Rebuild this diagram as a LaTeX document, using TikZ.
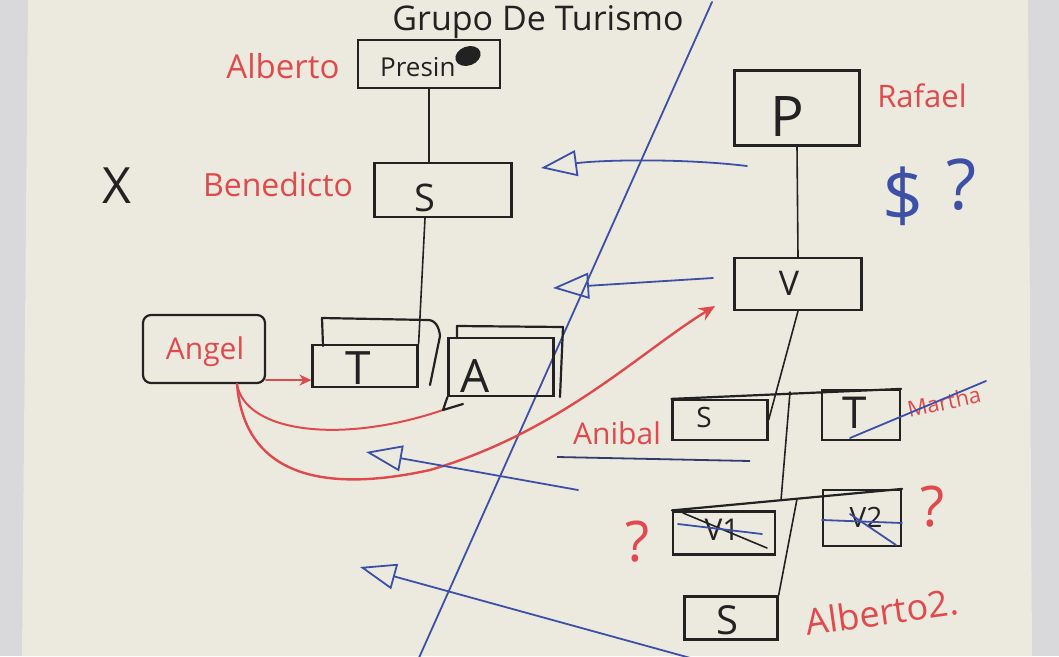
\documentclass[tikz,border=0pt]{standalone}
\usepackage{fontspec}
\setmainfont{Open Sans}
\usetikzlibrary{arrows.meta,calc,shapes.geometric}
\definecolor{paper}{HTML}{ECE9DF}
\definecolor{wall}{HTML}{D9D8DB}
\definecolor{mred}{HTML}{E04A4C}
\definecolor{mblue}{HTML}{3D50A8}
\definecolor{mblack}{HTML}{232222}
\newcommand{\hfs}[1]{\fontsize{#1}{#1}\selectfont}
\begin{document}
\begin{tikzpicture}[x=1pt,y=-1pt,
  ink/.style={draw=mblack,line width=2.2pt,line cap=round,line join=round},
  thin ink/.style={draw=mblack,line width=1.6pt,line cap=round},
  box/.style={draw=mblack,line width=2.2pt,inner sep=0pt},
  boxtxt/.style={text=mblack,inner sep=0pt},
  rname/.style={text=mred,inner sep=0pt},
  bname/.style={text=mblue,inner sep=0pt},
  rline/.style={draw=mred,line width=2.4pt,line cap=round},
  bline/.style={draw=mblue,line width=1.8pt,line cap=round},
  barrow/.style={bline,-{Triangle[open,length=36pt,width=26pt,line width=1.8pt]}},
  rarrow/.style={rline,-{Stealth[length=16pt,width=14pt]}}]
\useasboundingbox (0,0) rectangle (1059,656);
\clip (0,0) rectangle (1059,656);
\fill[wall] (0,0) rectangle (1059,656);
\fill[paper] (28,0) -- (1028,0) -- (1032,656) -- (22,656) -- cycle;

% title and divider
\node[boxtxt,anchor=base,font=\hfs{34}] (title) at (538,30) {Grupo De Turismo};
\coordinate (d1) at (712,2);
\coordinate (d2) at (418,660);
\draw[bline] (d1) -- (d2);

% ---------- left organisation ----------
\node[box,minimum width=142,minimum height=48] (pres) at (429,64) {};
\node[boxtxt,anchor=west,font=\hfs{26}] (prestxt) at (380,67) {Presin};
\node[fill=mblack,ellipse,minimum width=26,minimum height=19,inner sep=0pt,rotate=20] (blob) at (468,56) {};
\node[rname,font=\hfs{33}] (alberto) at (283,66) {Alberto};

\node[box,minimum width=137,minimum height=54] (sbox) at (443,190) {};
\node[boxtxt,font=\hfs{38}] (stxt) at (425,198) {S};
\node[rname,font=\hfs{32}] (benedicto) at (278,184) {Benedicto};
\node[boxtxt,font=\hfs{50}] (xmark) at (117,186) {X};

\node[box,minimum width=105,minimum height=42] (tbox) at (365,366) {};
\node[boxtxt,font=\hfs{46}] (ttxt) at (358,368) {T};
\draw[ink] (323,346) -- (322,318) -- (428,320) to[out=0,in=95] (440,336) -- (430,385);

\node[box,rounded corners=8,minimum width=122,minimum height=68] (angel) at (204,349) {};
\node[rname,font=\hfs{30}] (angeltxt) at (205,352) {Angel};

\node[box,minimum width=105,minimum height=58] (abox) at (501,367) {};
\node[boxtxt,font=\hfs{46}] (atxt) at (475,376) {A};
\draw[ink] (457,338) -- (457,326) -- (563,327) -- (560,397);

\draw[thin ink] (pres.south) -- (sbox.north -| pres.south);
\draw[thin ink] (sbox.south -| stxt) -- (tbox.north east);

% red arrows
\coordinate (ared) at ($(angel.south)+(33,0)$);
\coordinate (atip) at (443,410);
\coordinate (r2e) at (715,306);
\draw[rarrow,-{Stealth[length=12pt,width=11pt]}] ($(angel.south east)+(0,-4)$) -- ($(tbox.south west)+(0,-8)$);
\draw[rline,line width=2pt] (ared) .. controls (245,432) and (340,445) .. (atip);
\draw[ink] (abox.south west) -- (atip) -- (463,404);
\draw[rarrow] (ared) .. controls (245,480) and (330,492) .. (430,470) .. controls (560,432) and (640,352) .. (r2e);

% ---------- right organisation ----------
\node[box,minimum width=125,minimum height=75] (pbox) at (797,108) {};
\node[boxtxt,font=\hfs{56}] (ptxt) at (787,117) {P};
\node[rname,font=\hfs{31}] (rafael) at (922,96) {Rafael};

\node[box,minimum width=127,minimum height=52] (vbox) at (798,284) {};
\node[boxtxt,font=\hfs{34}] (vtxt) at (789,283) {V};
\draw[thin ink] (pbox.south) -- (vbox.north);

\node[bname,font=\hfs{72}] (dollar) at (903,196) {\$};
\node[bname,font=\hfs{70}] (qblue) at (962,185) {?};

\node[box,minimum width=95,minimum height=40] (s1) at (720,420) {};
\node[boxtxt,font=\hfs{28}] (s1txt) at (704,417) {S};
\node[box,minimum width=78,minimum height=50] (t2) at (861,415) {};
\node[boxtxt,font=\hfs{44}] (t2txt) at (855,413) {T};
\node[rname,font=\hfs{30}] (anibal) at (617,433) {Anibal};
\node[rname,font=\hfs{22},rotate=12] (martha) at (944,402) {Martha};

\draw[thin ink] (vbox.south) -- (s1.east);
\draw[ink] (s1.north west) -- (t2.north east);
\coordinate (j1) at (790,392);
\coordinate (j2) at (781,500);
\coordinate (j3) at (797,499);
\draw[thin ink] (j1) -- (j2);

\node[box,minimum width=102,minimum height=43] (v1) at (724,533) {};
\node[boxtxt,font=\hfs{30}] (v1txt) at (722,530) {V1};
\node[box,minimum width=78,minimum height=56] (v2) at (862,518) {};
\node[boxtxt,font=\hfs{28}] (v2txt) at (866,517) {V2};
\draw[ink] (v1.north west) -- (v2.north east);
\draw[thin ink] (683,513) -- (767,548);
\draw[bline] (678,524) -- (762,534);
\draw[bline] (822,520) -- (902,523);
\draw[bline] (850,514) -- (896,545);

\node[box,minimum width=93,minimum height=43] (s3) at (731,618) {};
\node[boxtxt,font=\hfs{40}] (s3txt) at (727,620) {S};
\draw[thin ink] (j3) -- (s3.north east);

\node[rname,font=\hfs{56}] (q1) at (638,542) {?};
\node[rname,font=\hfs{56}] (q2) at (933,507) {?};
\node[rname,font=\hfs{36},rotate=8] (alberto2) at (882,612) {Alberto2.};

% strike through Martha
\coordinate (m1) at (850,438);
\coordinate (m2) at (986,381);
\draw[bline] (m1) -- (m2);

% underline under Anibal
\coordinate (u1) at (557,457);
\coordinate (u2) at (750,461);
\draw[draw=mblue!55!mblack,line width=1.8pt] (u1) -- (u2);

% blue arrows towards the left group
\coordinate (b1s) at (747,166);
\coordinate (b1e) at (541,168);
\coordinate (b2s) at (713,278);
\coordinate (b2e) at (553,288);
\coordinate (b3s) at (578,490);
\coordinate (b3e) at (366,452);
\coordinate (b4s) at (705,662);
\coordinate (b4e) at (360,567);
\draw[barrow] (b1s) .. controls (680,158) and (600,160) .. (b1e);
\draw[barrow] (b2s) -- (b2e);
\draw[barrow] (b3s) -- (b3e);
\draw[barrow] (b4s) -- (b4e);
\end{tikzpicture}
\end{document}
